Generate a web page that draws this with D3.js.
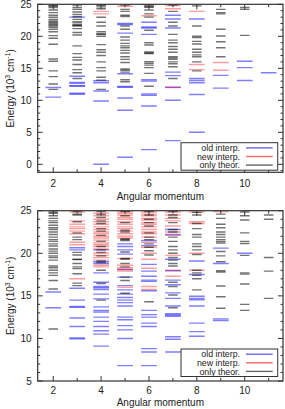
<!DOCTYPE html>
<html><head><meta charset="utf-8">
<script src="https://cdn.jsdelivr.net/npm/d3@7"></script>
<style>body{margin:0;background:#fff}svg{display:block}text{font-family:"Liberation Sans",Arial,sans-serif;fill:#222}</style>
</head><body><svg id="c" width="285" height="409"></svg>
<script>
// ---------- data (energies in 10^3 cm^-1, grouped by angular momentum L) ----------
const xTickLabels = [2, 4, 6, 8, 10];
const legendLabels = ["old interp.", "new interp.", "only theor."];
const seriesColors = ["#0000ff", "#ff0000", "#000000"];

const topOld = [
  [2, [10.5, 12.0]],
  [3, [23.0, 13.75, 12.8, 12.65, 12.3, 12.2, 11.1, 10.95]],
  [4, [13.05, 12.75, 11.45, 9.9, 0.0]],
  [5, [22.0, 21.85, 20.5, 14.15, 12.15, 12.05, 10.35, 8.45, 1.1]],
  [6, [22.2, 21.45, 21.3, 20.3, 13.2, 13.0, 11.0, 10.8, 9.1, 2.3]],
  [7, [23.3, 22.7, 21.3, 14.4, 13.85, 12.05, 10.0, 3.7]],
  [8, [22.7, 13.4, 13.1, 12.75, 10.9, 5.0]],
  [9, [13.9, 11.9]],
  [10, [16.1, 15.1, 13.1]],
  [11, [14.3]]
];
const topNew = [
  [4, [23.9, 23.5]],
  [5, [24.7]],
  [6, [24.95, 23.2]],
  [7, [24.8, 24.3, 12.0]],
  [8, [23.9, 15.6, 14.8]],
  [9, [15.9, 14.7]]
];
const topTheor = [
  [2, [24.85, 24.7, 24.5, 24.1, 23.7, 23.3, 22.97, 22.65, 22.4, 22.2, 22.0, 21.8, 21.6, 21.4, 21.1, 20.7, 20.1, 19.7, 18.75, 16.45, 16.1, 14.6, 13.7, 12.55, 11.7]],
  [3, [24.9, 24.5, 24.2, 23.8, 23.4, 23.05, 22.65, 22.3, 22.1, 21.8, 21.7, 21.6, 21.2, 20.6, 20.2, 18.5, 17.3, 16.7, 16.3, 15.6, 14.8, 14.3, 13.4]],
  [4, [24.95, 24.85, 24.6, 24.3, 22.97, 22.2, 21.6, 20.7, 20.4, 20.3, 20.0, 18.7, 17.9, 17.5, 17.0, 16.0, 15.1, 14.6, 13.6, 13.15, 11.7]],
  [5, [24.9, 24.2, 23.9, 23.3, 23.1, 21.6, 21.1, 19.9, 19.4, 18.9, 18.5, 18.2, 17.8, 17.4, 16.8, 16.4, 15.9, 14.9, 14.7, 14.4, 13.2, 12.9]],
  [6, [24.9, 24.65, 24.55, 24.1, 23.5, 23.0, 20.95, 19.0, 18.65, 17.55, 17.4, 17.3, 16.05, 15.8, 15.5, 15.1, 14.2, 12.2]],
  [7, [24.9, 23.9, 22.2, 21.6, 20.3, 19.4, 19.0, 18.4, 17.97, 17.5, 16.8, 16.6, 16.4, 16.0, 15.7, 15.25, 13.4]],
  [8, [24.75, 21.6, 20.0, 19.8, 19.2, 18.8, 17.97, 17.5, 17.1, 16.8, 16.0, 14.6]],
  [9, [24.2, 23.7, 23.5, 21.1, 20.05, 19.15, 18.2, 16.8]],
  [10, [24.5, 24.2, 20.15]]
];

const botOld = [
  [2, [15.45, 13.6]],
  [3, [20.65, 20.4, 15.9, 14.5, 13.75, 13.65, 12.4, 11.4, 10.05, 9.95]],
  [4, [20.4, 19.0, 18.8, 17.7, 16.6, 16.1, 15.95, 15.75, 15.2, 14.65, 13.7, 13.3, 13.1, 12.5, 12.0, 11.4, 10.9, 10.5, 9.1]],
  [5, [21.1, 20.8, 20.4, 19.9, 18.1, 17.2, 16.2, 15.7, 15.2, 14.8, 14.5, 14.2, 13.8, 12.5, 12.2, 11.5, 11.0, 10.0, 6.8]],
  [6, [21.5, 20.9, 18.7, 17.9, 17.3, 16.85, 16.7, 15.6, 13.3, 12.8, 12.5, 11.8, 11.4, 8.8, 8.4, 6.8]],
  [7, [22.8, 22.2, 19.3, 17.95, 16.85, 16.3, 15.35, 14.7, 13.8, 12.9, 12.75, 12.6, 10.2, 9.9, 8.4]],
  [8, [19.1, 17.5, 14.95, 14.7, 14.55, 13.8, 11.8, 10.8, 10.25]],
  [9, [20.6, 18.8, 12.3, 12.1]],
  [10, [20.0]]
];
const botNew = [
  [3, [24.85, 23.8, 23.4, 23.1, 22.9, 22.6, 22.3, 21.3, 21.0, 17.0]],
  [4, [24.7, 24.4, 24.0, 23.7, 23.4, 23.1, 22.8, 22.5, 22.3, 22.0, 21.8, 21.55, 21.2, 21.0, 20.8, 20.5, 20.0, 19.75, 19.5, 19.2, 18.6, 18.4]],
  [5, [24.9, 24.7, 24.5, 24.2, 24.0, 23.7, 23.4, 23.1, 22.9, 22.6, 22.3, 22.0, 21.8, 19.4, 18.6, 18.3, 18.1, 17.9, 16.0]],
  [6, [24.85, 24.6, 24.4, 24.1, 23.9, 23.6, 23.4, 23.1, 22.8, 22.5, 22.3, 21.9, 21.3, 20.7, 20.0, 19.3, 18.25, 16.1, 15.75]],
  [7, [24.85, 24.5, 24.1, 23.8, 23.2, 22.5, 22.1, 19.75, 18.0, 17.3]],
  [8, [24.85, 23.7, 23.5, 20.0, 18.0]],
  [9, [24.9]]
];
const botTheor = [
  [2, [24.85, 24.7, 24.4, 24.1, 23.8, 23.6, 23.3, 23.0, 22.8, 22.5, 22.2, 21.9, 21.6, 21.4, 21.1, 20.85, 20.5, 20.25, 20.0, 19.7, 19.5, 19.2, 18.5, 18.3, 18.0, 17.7, 17.4, 16.8, 15.8, 11.1]],
  [3, [24.9, 24.6, 24.5, 23.7, 22.4, 21.9, 21.6, 20.1, 19.8, 19.3, 19.25, 18.8, 18.4, 18.2, 17.6, 16.5, 16.2]],
  [4, [24.9, 24.55, 24.2, 23.8, 23.5, 22.9, 22.6, 22.1, 21.4, 20.8, 20.4, 20.1, 19.7, 19.1, 18.9, 18.0, 16.45, 14.5]],
  [5, [24.9, 24.4, 23.6, 22.7, 22.5, 21.7, 21.6, 21.5, 20.15, 19.4, 19.3, 18.8, 18.4, 17.2, 16.8, 15.3]],
  [6, [24.9, 24.5, 24.0, 23.6, 23.2, 22.4, 21.9, 21.6, 21.1, 20.7, 20.3, 19.8, 14.3]],
  [7, [24.9, 24.5, 24.2, 23.6, 22.8, 22.5, 21.9, 21.4, 20.8, 20.4, 20.0, 19.5, 19.2, 18.8, 18.5, 16.6, 16.1, 15.1, 13.6]],
  [8, [24.8, 24.5, 23.5, 22.9, 22.2, 21.9, 21.1, 20.8, 20.4, 19.85, 18.0, 17.7, 17.4, 17.0, 15.7]],
  [9, [24.6, 24.1, 23.4, 23.0, 22.5, 22.2, 21.9, 21.6, 21.4, 21.2, 20.2, 19.7, 19.0, 17.95, 17.8, 16.15, 14.9, 13.55]],
  [10, [24.85, 24.4, 23.9, 22.4, 21.4, 21.15, 19.75, 17.7, 17.55, 16.4, 14.0, 13.3]],
  [11, [24.5, 24.0, 19.5, 17.9, 14.7]]
];

// ---------- drawing ----------
const svg = d3.select("#c");
const xDomain = [1.35, 11.6];
const seriesOpacity = [0.5, 0.38, 0.55];

function panel(cfg) {
  const {top, bottom, yDomain, yTicks, series, legendY, tickOff, titleOff} = cfg;
  const left = 37.7, right = 283;
  const x = d3.scaleLinear().domain(xDomain).range([left, right]);
  const y = d3.scaleLinear().domain(yDomain).range([bottom, top]);
  const g = svg.append("g");
  const clipId = "clip" + Math.round(top);
  g.append("clipPath").attr("id", clipId).append("rect")
    .attr("x", left).attr("y", top).attr("width", right - left).attr("height", bottom - top);
  const plot = g.append("g").attr("clip-path", `url(#${clipId})`);

  series.forEach((s, si) => {
    const half = si === 2 ? 0.2 : 0.33;
    const pts = [];
    s.forEach(([L, vals]) => vals.forEach(e => pts.push({L, e})));
    plot.selectAll(null).data(pts).enter().append("line")
      .attr("x1", d => x(d.L - half)).attr("x2", d => x(d.L + half))
      .attr("y1", d => y(d.e)).attr("y2", d => y(d.e))
      .attr("stroke", seriesColors[si]).attr("stroke-opacity", seriesOpacity[si])
      .attr("stroke-width", 1.4);
  });

  const allX = d3.range(2, 12);
  const xMajor = [2, 4, 6, 8, 10];
  const yMinor = d3.range(Math.ceil(yDomain[0]), 26);
  const tk = g.append("g").attr("stroke", "#333").attr("stroke-width", 1);
  allX.forEach(v => {
    const len = xMajor.includes(v) ? 5 : 3;
    tk.append("line").attr("x1", x(v)).attr("x2", x(v)).attr("y1", bottom).attr("y2", bottom - len);
    tk.append("line").attr("x1", x(v)).attr("x2", x(v)).attr("y1", top).attr("y2", top + len);
  });
  yMinor.forEach(v => {
    const len = yTicks.includes(v) ? 5 : 2.5;
    tk.append("line").attr("x1", left).attr("x2", left + len).attr("y1", y(v)).attr("y2", y(v));
    tk.append("line").attr("x1", right).attr("x2", right - len).attr("y1", y(v)).attr("y2", y(v));
  });
  g.append("rect").attr("x", left).attr("y", top).attr("width", right - left).attr("height", bottom - top)
    .attr("fill", "none").attr("stroke", "#333").attr("stroke-width", 1.2);

  g.selectAll(null).data(xTickLabels).enter().append("text")
    .attr("x", d => x(d)).attr("y", bottom + tickOff).attr("text-anchor", "middle")
    .attr("font-size", 10).text(d => d);
  g.selectAll(null).data(yTicks).enter().append("text")
    .attr("x", left - 6).attr("y", d => y(d) + 3.5).attr("text-anchor", "end")
    .attr("font-size", 10).text(d => d);

  g.append("text").attr("x", (left + right) / 2).attr("y", bottom + titleOff)
    .attr("text-anchor", "middle").attr("font-size", 10).text("Angular momentum");

  const yl = g.append("text").attr("font-size", 10).attr("text-anchor", "middle")
    .attr("transform", `translate(14,${(top + bottom) / 2}) rotate(-90)`);
  yl.append("tspan").text("Energy (10");
  yl.append("tspan").attr("font-size", 7).attr("dy", -4).text("3");
  yl.append("tspan").attr("dy", 4).text(" cm");
  yl.append("tspan").attr("font-size", 7).attr("dy", -4).text("-1");
  yl.append("tspan").attr("dy", 4).text(")");

  const lg = g.append("g");
  lg.append("rect").attr("x", 181).attr("y", legendY).attr("width", 96.7).attr("height", 27.5)
    .attr("fill", "#fff").attr("stroke", "#333").attr("stroke-width", 1);
  legendLabels.forEach((t, i) => {
    const cy = legendY + 5.2 + i * 8.6;
    lg.append("text").attr("x", 240).attr("y", cy + 3.1).attr("text-anchor", "end")
      .attr("font-size", 8.8).text(t);
    lg.append("line").attr("x1", 246).attr("x2", 272.7).attr("y1", cy).attr("y2", cy)
      .attr("stroke", seriesColors[i]).attr("stroke-opacity", 0.6).attr("stroke-width", 1.4);
  });
}

panel({top: 4.3, bottom: 172.3, yDomain: [-1.25, 25], yTicks: [0, 5, 10, 15, 20, 25],
  series: [topOld, topNew, topTheor], legendY: 142.7, tickOff: 15, titleOff: 27.5});
panel({top: 210.7, bottom: 381, yDomain: [5, 25], yTicks: [5, 10, 15, 20, 25],
  series: [botOld, botNew, botTheor], legendY: 349, tickOff: 12.5, titleOff: 25});
</script></body></html>
